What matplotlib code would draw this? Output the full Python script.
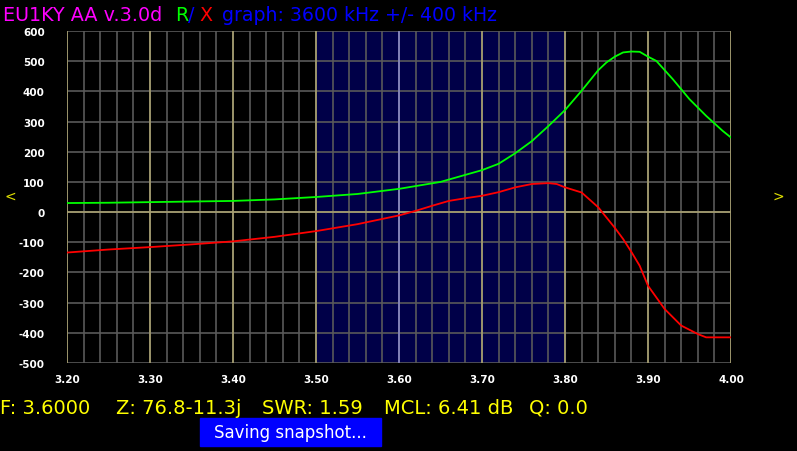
import numpy as np
import matplotlib.pyplot as plt

# Values
freq_r = [3.20, 3.25, 3.30, 3.35, 3.40, 3.45, 3.50, 3.55, 3.60, 3.65, 3.70, 3.72, 3.74,
          3.76, 3.78, 3.80, 3.82, 3.84, 3.85, 3.86, 3.87, 3.88, 3.89, 3.90, 3.91, 3.93,
          3.95, 3.97, 3.99, 4.00]
r_vals = [30, 31, 33, 35, 37, 42, 50, 60, 77, 100, 139, 160, 195,
          235, 285, 338, 402, 470, 496, 515, 529, 532, 531, 515, 501, 440,
          374, 319, 269, 247]

freq_x = [3.20, 3.25, 3.30, 3.35, 3.40, 3.45, 3.50, 3.55, 3.60, 3.62, 3.64, 3.66, 3.68,
          3.70, 3.72, 3.74, 3.76, 3.78, 3.79, 3.80, 3.82, 3.84, 3.85, 3.86, 3.87, 3.88,
          3.89, 3.90, 3.92, 3.94, 3.96, 3.97, 4.00]
x_vals = [-134, -124, -116, -107, -97, -82, -63, -40, -11, 4, 21, 37, 46,
          54, 66, 82, 93, 96, 93, 82, 65, 16, -18, -52, -89, -132,
          -178, -244, -321, -376, -404, -415, -415]

x_ticks = [3.20, 3.30, 3.40, 3.50, 3.60, 3.70, 3.80, 3.90, 4.00]
x_tick_labels = ["3.20", "3.30", "3.40", "3.50", "3.60", "3.70", "3.80", "3.90", "4.00"]
x_minor = np.round(np.arange(3.20, 4.001, 0.02), 2)
y_ticks = [600, 500, 400, 300, 200, 100, 0, -100, -200, -300, -400, -500]
band = (3.50, 3.80)
center_f = 3.60

status_items = ["F: 3.6000", "Z: 76.8-11.3j", "SWR: 1.59", "MCL: 6.41 dB", "Q: 0.0"]
status_x = [0, 116, 262, 384, 529]

W, H = 797, 452
fig = plt.figure(figsize=(W / 100, H / 100), dpi=100, facecolor="black")
ax = fig.add_axes([67 / W, (H - 364) / H, 664 / W, 332 / H], facecolor="black")

ax.set_xlim(3.20, 4.00)
ax.set_ylim(-500, 600)

# Band highlight
ax.axvspan(band[0], band[1], color="#000048", zorder=0)

# Grid
for f in x_minor:
    ax.axvline(f, color="#5a5a5a", lw=1.2, zorder=1)
for y in y_ticks:
    ax.axhline(y, color="#5a5a5a", lw=1.2, zorder=1)
for f in x_ticks:
    if f == center_f:
        ax.axvline(f, color="#8c8cc8", lw=1.2, zorder=2)
    else:
        ax.axvline(f, color="#a8a070", lw=1.2, zorder=2)
ax.axhline(0, color="#a8a070", lw=1.2, zorder=2)

# Curves
ax.plot(freq_r, r_vals, color="#00ff00", lw=1.3, zorder=3)
ax.plot(freq_x, x_vals, color="#ff0000", lw=1.3, zorder=3)

for s in ax.spines.values():
    s.set_visible(False)

ax.set_xticks(x_ticks)
ax.set_xticklabels(x_tick_labels)
ax.set_yticks(y_ticks)
ax.set_yticklabels([str(v) for v in y_ticks])
ax.tick_params(length=0, colors="white", labelsize=7.5)
ax.tick_params(axis="y", pad=16)
ax.tick_params(axis="x", pad=8)
for lbl in ax.get_xticklabels() + ax.get_yticklabels():
    lbl.set_fontweight("bold")

# Header
hy = 1 - 21 / H
fs_h = 13.8
fig.text(3 / W, hy, "EU1KY AA v.3.0d", color="#ff00ff", fontsize=fs_h, va="baseline")
fig.text(175 / W, hy, "R", color="#00ff00", fontsize=fs_h, va="baseline")
fig.text(188 / W, hy, "/", color="#0000ff", fontsize=fs_h, va="baseline")
fig.text(199 / W, hy, "X", color="#ff0000", fontsize=fs_h, va="baseline")
fig.text(222 / W, hy, "graph: 3600 kHz +/- 400 kHz", color="#0000ff", fontsize=fs_h - 0.2,
         va="baseline")

# Scroll arrows
fig.text(10 / W, 1 - 197 / H, "<", color="#e0e000", fontsize=10, ha="center", va="center")
fig.text(778 / W, 1 - 197 / H, ">", color="#e0e000", fontsize=10, ha="center", va="center")

# Status line
for txt, xp in zip(status_items, status_x):
    fig.text(xp / W, 1 - 414 / H, txt, color="#ffff00", fontsize=14, va="baseline")

# Snapshot message
fig.patches.append(plt.Rectangle((200 / W, 1 - 447 / H), 181 / W, 28 / H,
                                 transform=fig.transFigure, color="#0000ff"))
fig.text(290 / W, 1 - 433 / H, "Saving snapshot...", color="white", fontsize=12,
         ha="center", va="center")

plt.savefig("out.png", dpi=100, facecolor="black")
